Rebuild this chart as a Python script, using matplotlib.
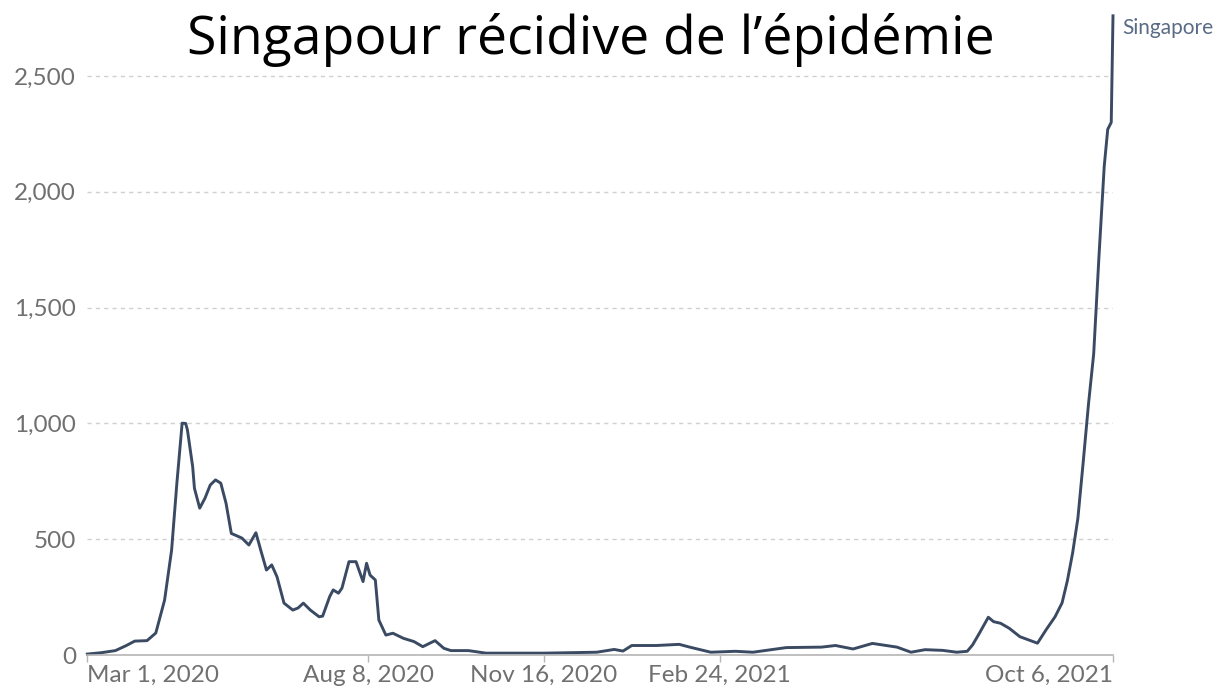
import pandas as pd
import matplotlib.pyplot as plt

# 7-day average of daily new cases
dates = [
    "2020-03-01", "2020-03-09", "2020-03-17", "2020-03-23", "2020-03-28", "2020-04-04",
    "2020-04-09", "2020-04-14", "2020-04-18", "2020-04-21", "2020-04-24", "2020-04-26",
    "2020-04-27", "2020-04-30", "2020-05-01", "2020-05-04", "2020-05-07", "2020-05-10",
    "2020-05-13", "2020-05-16", "2020-05-19", "2020-05-22", "2020-05-28", "2020-06-01",
    "2020-06-05", "2020-06-08", "2020-06-11", "2020-06-14", "2020-06-17", "2020-06-21",
    "2020-06-26", "2020-06-29", "2020-07-02", "2020-07-06", "2020-07-11", "2020-07-13",
    "2020-07-17", "2020-07-19", "2020-07-22", "2020-07-24", "2020-07-28", "2020-08-01",
    "2020-08-05", "2020-08-07", "2020-08-09", "2020-08-12", "2020-08-14", "2020-08-18",
    "2020-08-22", "2020-08-28", "2020-09-03", "2020-09-08", "2020-09-15", "2020-09-20",
    "2020-09-24", "2020-10-04", "2020-10-14", "2020-11-16", "2020-12-16", "2020-12-26",
    "2020-12-31", "2021-01-05", "2021-01-19", "2021-02-01", "2021-02-07", "2021-02-19",
    "2021-03-05", "2021-03-15", "2021-04-03", "2021-04-23", "2021-05-01", "2021-05-11",
    "2021-05-22", "2021-06-05", "2021-06-13", "2021-06-21", "2021-07-01", "2021-07-09",
    "2021-07-15", "2021-07-18", "2021-07-22", "2021-07-27", "2021-07-30", "2021-08-03",
    "2021-08-08", "2021-08-14", "2021-08-19", "2021-08-24", "2021-08-29", "2021-09-03",
    "2021-09-07", "2021-09-10", "2021-09-13", "2021-09-16", "2021-09-19", "2021-09-22",
    "2021-09-25", "2021-09-28", "2021-10-01", "2021-10-03", "2021-10-05", "2021-10-06",
]
cases = [
    4, 10, 19, 40, 60, 62,
    95, 237, 453, 742, 1001, 1000,
    972, 813, 720, 634, 677, 734,
    756, 742, 655, 525, 505, 475,
    528, 446, 367, 389, 338, 224,
    194, 203, 224, 194, 165, 168,
    252, 281, 267, 289, 403, 403,
    317, 396, 345, 324, 151, 86,
    94, 72, 58, 36, 62, 29,
    19, 19, 8, 8, 12, 24,
    17, 41, 41, 46, 34, 12,
    16, 12, 32, 34, 41, 26,
    50, 34, 12, 23, 20, 12,
    16, 43, 95, 163, 144, 137,
    115, 79, 65, 51, 110, 165,
    225, 320, 440, 590, 830, 1080,
    1300, 1720, 2110, 2270, 2300, 2760,
]

tick_dates = ["2020-03-01", "2020-08-08", "2020-11-16", "2021-02-24", "2021-10-06"]
tick_labels = ["Mar 1, 2020", "Aug 8, 2020", "Nov 16, 2020", "Feb 24, 2021", "Oct 6, 2021"]
y_ticks = [0, 500, 1000, 1500, 2000, 2500]
y_labels = ["0", "500", "1,000", "1,500", "2,000", "2,500"]

title = "Singapour récidive de l’épidémie"
country = "Singapore"

x = pd.to_datetime(dates)
xt = pd.to_datetime(tick_dates)

W, H = 1224, 693
fig = plt.figure(figsize=(W / 100, H / 100), dpi=100)
ymax = 2780
ax = fig.add_axes([87.3 / W, 38 / H, (1113 - 87.3) / W, (655 - 11.2) / H])

line_col = "#3b4a63"
ax.plot(x, cases, color=line_col, lw=2.1, solid_joinstyle="round", clip_on=False)

ax.set_xlim(xt[0], xt[-1])
ax.set_ylim(0, ymax)

for s in ["top", "right", "left"]:
    ax.spines[s].set_visible(False)
ax.spines["bottom"].set_color("#b5b5b5")
ax.spines["bottom"].set_linewidth(1.2)

ax.set_yticks(y_ticks)
ax.set_yticklabels(y_labels)
ax.tick_params(axis="y", length=0, pad=8, labelsize=17.5, labelcolor="#707070")
ax.set_xticks(xt)
ax.set_xticklabels(tick_labels)
ax.tick_params(axis="x", length=5, width=1, color="#b5b5b5", pad=2,
               labelsize=17.5, labelcolor="#707070")
for lbl in ax.get_yticklabels() + ax.get_xticklabels():
    lbl.set_fontfamily("Lato")
xl = ax.get_xticklabels()
xl[0].set_horizontalalignment("left")
xl[-1].set_horizontalalignment("right")

ax.yaxis.grid(True, linestyle=(0, (3, 3)), color="#d0d0d0", lw=1)
ax.set_axisbelow(True)

ax.annotate(country, xy=(1.0, cases[-1]), xycoords=ax.get_yaxis_transform(),
            xytext=(7, -9), textcoords="offset points",
            ha="left", va="center", fontsize=15, color="#5a6b86", family="Lato")

fig.text(591 / W, 1 - 40 / H, title, ha="center", va="center",
         fontsize=38.5, family="Open Sans", color="black")

fig.savefig("out.png", dpi=100)
